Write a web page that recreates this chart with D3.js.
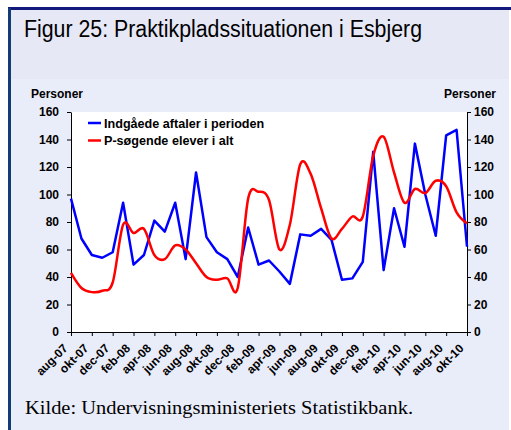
<!DOCTYPE html>
<html lang="da">
<head>
<meta charset="UTF-8">
<title>Figur 25: Praktikpladssituationen i Esbjerg</title>
<script src="https://cdn.jsdelivr.net/npm/d3@7"></script>
<style>
  body { margin: 0; background: #fff; }
  .tick text { font-family: "Liberation Sans", Arial, sans-serif; font-weight: bold; font-size: 12px; fill: #000; }
  .domain, .tick line { stroke: #000; }
</style>
</head>
<body>
<svg id="chart" width="511" height="430"></svg>
<script>
// måneder aug-07 .. okt-10
var months = ["aug-07","sep-07","okt-07","nov-07","dec-07","jan-08","feb-08","mar-08","apr-08","maj-08",
  "jun-08","jul-08","aug-08","sep-08","okt-08","nov-08","dec-08","jan-09","feb-09","mar-09",
  "apr-09","maj-09","jun-09","jul-09","aug-09","sep-09","okt-09","nov-09","dec-09","jan-10",
  "feb-10","mar-10","apr-10","maj-10","jun-10","jul-10","aug-10","sep-10","okt-10"];

var indgaaede = [97, 68, 56, 54, 58, 94, 49, 56, 81, 73, 94, 53, 116, 69, 58, 53, 40, 76, 49, 52,
  44, 35, 71, 70, 75, 67, 38, 39, 51, 131, 45, 90, 62, 137, 100, 70, 143, 147, 62];
var psoegende = [43, 32, 29, 30, 36, 78, 72, 75, 56, 53, 63, 60, 50, 40, 38, 39, 32, 97, 102, 96,
  60, 78, 122, 115, 90, 68, 75, 84, 84, 128, 142, 116, 94, 104, 101, 110, 106, 87, 79];

var seriesNames = ["Indgåede aftaler i perioden", "P-søgende elever i alt"];
var seriesColors = ["#0000ff", "#ff0000"];
var yTicks = [0, 20, 40, 60, 80, 100, 120, 140, 160];

var svg = d3.select("#chart");

// baggrund og ramme
svg.append("rect").attr("x", 8).attr("y", 8).attr("width", 501).attr("height", 422).attr("fill", "#e9ecf9");
svg.append("rect").attr("x", 8).attr("y", 8).attr("width", 501).attr("height", 71).attr("fill", "#e6e8f6");
svg.append("rect").attr("x", 8).attr("y", 7).attr("width", 503).attr("height", 3).attr("fill", "#14197c");
svg.append("rect").attr("x", 8).attr("y", 8).attr("width", 3).attr("height", 422).attr("fill", "#123c78");

svg.append("text")
    .attr("x", 24).attr("y", 37)
    .attr("textLength", 398).attr("lengthAdjust", "spacingAndGlyphs")
    .style("font-family", "'Liberation Sans Narrow', 'Liberation Sans', Arial, sans-serif")
    .style("font-size", "23px")
    .text("Figur 25: Praktikpladssituationen i Esbjerg");

var plotLeft = 71, plotRight = 467, plotTop = 112, plotBottom = 332;

var x = d3.scalePoint().domain(months).range([plotLeft, plotRight]);
var y = d3.scaleLinear().domain([0, 160]).range([plotBottom, plotTop]);

svg.append("rect").attr("x", plotLeft).attr("y", plotTop)
    .attr("width", plotRight - plotLeft).attr("height", plotBottom - plotTop).attr("fill", "#fff");

svg.append("g").attr("transform", "translate(" + plotLeft + ",0)")
    .call(d3.axisLeft(y).tickValues(yTicks).tickSize(4).tickPadding(8).tickSizeOuter(0));
svg.append("g").attr("transform", "translate(" + plotRight + ",0)")
    .call(d3.axisRight(y).tickValues(yTicks).tickSize(4).tickPadding(3).tickSizeOuter(0));

var xAxis = svg.append("g").attr("transform", "translate(0," + plotBottom + ")")
    .call(d3.axisBottom(x).tickValues(months.filter(function(d, i) { return i % 2 === 0; }))
      .tickSize(4).tickSizeOuter(0));
xAxis.selectAll("text")
    .attr("text-anchor", "end")
    .attr("dy", null)
    .attr("y", 0)
    .attr("transform", "translate(-3,17) rotate(-45)");

svg.selectAll(".axis-title").data([[31, "start"], [496, "end"]]).enter().append("text")
    .attr("x", function(d) { return d[0]; }).attr("y", 98)
    .attr("text-anchor", function(d) { return d[1]; })
    .style("font-family", "'Liberation Sans', Arial, sans-serif")
    .style("font-weight", "bold").style("font-size", "12px")
    .text("Personer");

var line = d3.line()
    .x(function(d, i) { return x(months[i]); })
    .y(function(d) { return y(d); });

svg.append("path").datum(indgaaede)
    .attr("d", line.curve(d3.curveLinear))
    .attr("fill", "none").attr("stroke", seriesColors[0]).attr("stroke-width", 2.5)
    .attr("stroke-linejoin", "round");
svg.append("path").datum(psoegende)
    .attr("d", line.curve(d3.curveCatmullRom.alpha(0)))
    .attr("fill", "none").attr("stroke", seriesColors[1]).attr("stroke-width", 2.5);

var legend = svg.selectAll(".legend").data(seriesNames).enter().append("g")
    .attr("transform", function(d, i) { return "translate(88," + (123 + i * 17.5) + ")"; });
legend.append("line").attr("x1", 0).attr("x2", 13)
    .attr("stroke", function(d, i) { return seriesColors[i]; }).attr("stroke-width", 2.5);
legend.append("text").attr("x", 16).attr("y", 4.5)
    .style("font-family", "'Liberation Sans', Arial, sans-serif")
    .style("font-weight", "bold").style("font-size", "12.6px")
    .text(function(d) { return d; });

svg.append("text")
    .attr("x", 25).attr("y", 414)
    .attr("textLength", 388).attr("lengthAdjust", "spacingAndGlyphs")
    .style("font-family", "'Liberation Serif', 'Times New Roman', serif")
    .style("font-size", "18.5px")
    .text("Kilde: Undervisningsministeriets Statistikbank.");
</script>
</body>
</html>
